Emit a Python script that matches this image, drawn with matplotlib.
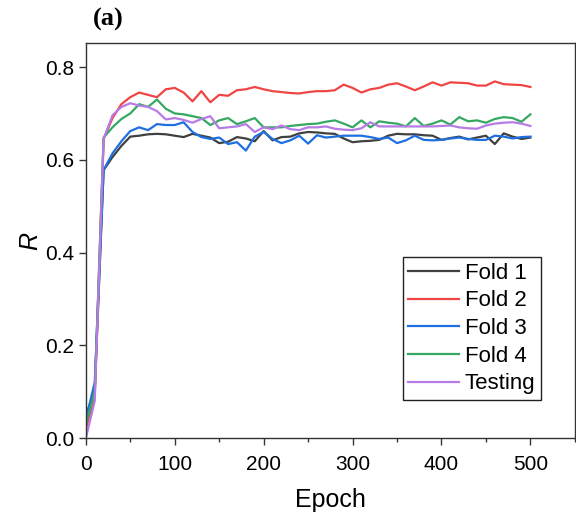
import matplotlib
matplotlib.use("Agg")
import matplotlib.pyplot as plt
from matplotlib.ticker import MultipleLocator

# ── Data, one value every 10 epochs
epochs = list(range(0, 501, 10))

fold1 = [0.05, 0.10, 0.578, 0.606, 0.630, 0.650, 0.652, 0.655, 0.656, 0.655,
         0.652, 0.649, 0.656, 0.652, 0.648, 0.636, 0.639, 0.649, 0.646, 0.640,
         0.662, 0.642, 0.649, 0.650, 0.657, 0.660, 0.659, 0.657, 0.656, 0.646,
         0.638, 0.640, 0.641, 0.643, 0.652, 0.656, 0.655, 0.655, 0.653, 0.652,
         0.643, 0.647, 0.650, 0.644, 0.648, 0.652, 0.634, 0.657, 0.650, 0.645,
         0.648]
fold2 = [0.02, 0.09, 0.645, 0.690, 0.720, 0.735, 0.745, 0.740, 0.735, 0.752,
         0.755, 0.745, 0.726, 0.748, 0.724, 0.740, 0.738, 0.750, 0.752, 0.757,
         0.752, 0.748, 0.746, 0.744, 0.743, 0.746, 0.748, 0.748, 0.750, 0.762,
         0.755, 0.745, 0.752, 0.755, 0.762, 0.765, 0.758, 0.750, 0.758, 0.767,
         0.760, 0.767, 0.766, 0.765, 0.760, 0.760, 0.769, 0.763, 0.762, 0.761,
         0.757]
fold3 = [0.04, 0.12, 0.578, 0.614, 0.640, 0.662, 0.670, 0.664, 0.677, 0.675,
         0.675, 0.681, 0.660, 0.649, 0.645, 0.648, 0.634, 0.638, 0.620, 0.650,
         0.660, 0.645, 0.636, 0.642, 0.652, 0.635, 0.653, 0.648, 0.650, 0.652,
         0.652, 0.652, 0.649, 0.645, 0.648, 0.636, 0.642, 0.652, 0.643, 0.642,
         0.643, 0.646, 0.648, 0.645, 0.643, 0.643, 0.652, 0.650, 0.646, 0.649,
         0.650]
fold4 = [0.03, 0.10, 0.648, 0.670, 0.688, 0.700, 0.720, 0.714, 0.730, 0.710,
         0.700, 0.698, 0.694, 0.690, 0.675, 0.685, 0.690, 0.677, 0.683, 0.690,
         0.670, 0.670, 0.670, 0.673, 0.675, 0.677, 0.678, 0.682, 0.685, 0.678,
         0.670, 0.685, 0.670, 0.683, 0.680, 0.678, 0.672, 0.690, 0.673, 0.678,
         0.685, 0.676, 0.692, 0.683, 0.685, 0.680, 0.688, 0.692, 0.690, 0.682,
         0.698]
testing = [0.00, 0.08, 0.645, 0.696, 0.714, 0.722, 0.717, 0.714, 0.705, 0.687,
           0.690, 0.686, 0.680, 0.688, 0.694, 0.668, 0.670, 0.672, 0.677, 0.660,
           0.670, 0.666, 0.674, 0.666, 0.664, 0.670, 0.670, 0.672, 0.667, 0.665,
           0.664, 0.668, 0.681, 0.672, 0.672, 0.672, 0.672, 0.672, 0.672, 0.672,
           0.673, 0.674, 0.670, 0.668, 0.667, 0.674, 0.678, 0.680, 0.681, 0.678,
           0.673]

labels = ["Fold 1", "Fold 2", "Fold 3", "Fold 4", "Testing"]
series = [fold1, fold2, fold3, fold4, testing]
colors = ["#404040", "#f04545", "#1f6fe0", "#35a862", "#b77be6"]

plt.rcParams["font.family"] = ["Liberation Sans", "DejaVu Sans"]

fig = plt.figure(figsize=(5.76, 5.23), dpi=100)
ax = fig.add_axes([0.149, 0.162, 0.849, 0.756])

for vals, lab, col in zip(series, labels, colors):
    ax.plot(epochs, vals, color=col, lw=1.6, label=lab)

ax.set_xlim(0, 550)
ax.set_ylim(0, 0.852)
ax.xaxis.set_major_locator(MultipleLocator(100))
ax.xaxis.set_minor_locator(MultipleLocator(50))
ax.yaxis.set_major_locator(MultipleLocator(0.2))
ax.yaxis.set_major_formatter(matplotlib.ticker.FormatStrFormatter("%.1f"))
ax.tick_params(axis="both", which="major", direction="out", length=5,
               width=1, labelsize=15, color="#333333")
ax.tick_params(axis="x", which="major", pad=7)
ax.tick_params(axis="x", which="minor", direction="out", length=3, width=1,
               color="#333333")
for sp in ax.spines.values():
    sp.set_color("#333333")
    sp.set_linewidth(1)

ax.set_xlabel("Epoch", fontsize=18, labelpad=10)
ax.set_ylabel("R", fontsize=18, style="italic", labelpad=2)

leg = ax.legend(loc="upper left", bbox_to_anchor=(0.648, 0.458),
                fontsize=16, frameon=True, fancybox=False, framealpha=1,
                edgecolor="#222222", handlelength=2.3, handletextpad=0.25,
                labelspacing=0.3, borderpad=0.25, borderaxespad=0)
leg.get_frame().set_linewidth(1)

fig.text(0.188, 0.963, "(a)", family=["Liberation Serif", "DejaVu Serif"],
         fontsize=19, fontweight="bold", ha="center", va="center")

fig.savefig("out.png", dpi=100)
